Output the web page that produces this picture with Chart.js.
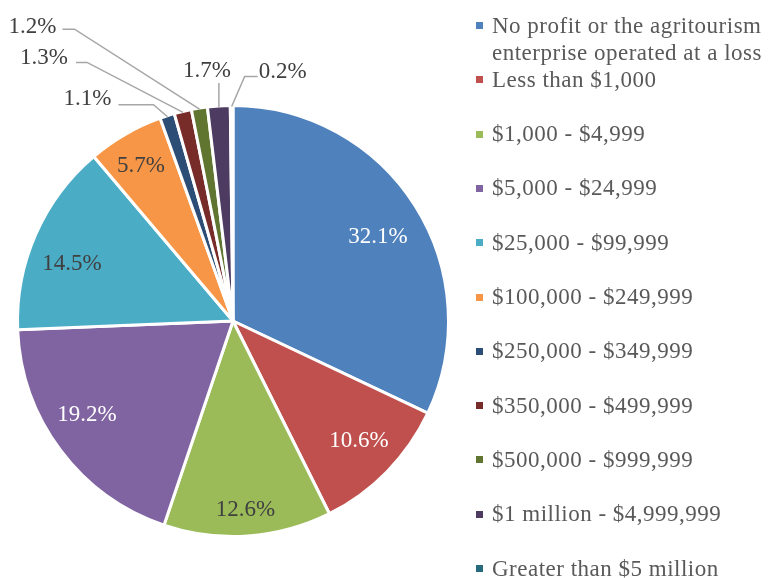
<!DOCTYPE html>
<html>
<head>
<meta charset="utf-8">
<script src="https://cdn.jsdelivr.net/npm/chart.js@4.4.1/dist/chart.umd.min.js"></script>
<style>
  body { margin: 0; background: #fff; }
  #wrap { position: relative; width: 768px; height: 578px; }
  #legend { position: absolute; left: 0; top: 0; font-family: "Liberation Serif", serif; font-size: 23px; color: #595959; letter-spacing: 0.5px; }
  .item { position: absolute; left: 492px; line-height: 27px; white-space: nowrap; }
  .box { position: absolute; width: 7px; height: 7px; }
</style>
</head>
<body>
<div id="wrap">
  <canvas id="pie"></canvas>
  <div id="legend"></div>
</div>
<script>
const categories = [
  ['No profit or the agritourism', 'enterprise operated at a loss'],
  'Less than $1,000',
  '$1,000 - $4,999',
  '$5,000 - $24,999',
  '$25,000 - $99,999',
  '$100,000 - $249,999',
  '$250,000 - $349,999',
  '$350,000 - $499,999',
  '$500,000 - $999,999',
  '$1 million - $4,999,999',
  'Greater than $5 million'
];
const shares = [32.1, 10.6, 12.6, 19.2, 14.5, 5.7, 1.1, 1.3, 1.2, 1.7, 0.2];
const colors = ['#4F81BD', '#C0504D', '#9BBB59', '#8064A2', '#4BACC6', '#F79646',
                '#2C4D75', '#772C2A', '#5F7530', '#4D3B62', '#276A7C'];

// label styling for slices big enough to hold their text
const labelColors = ['#fff', '#fff', '#404040', '#fff', '#404040', '#404040'];
const labelRadius = [0.779, 0.807, 0.877, 0.806, 0.793, 0.836];
const labelTurn = [2.1, -0.8, 0.2, 4, -4.2, -0.7]; // degrees off the slice middle

// leader lines for the thin slices: elbow offset from rim, arm length, text offset
const callouts = {
  6:  { dx: -14,  dy: -12, arm: -35, tx: -7,  ty: -5.5, align: 'right' },
  7:  { dx: -96,  dy: -50, arm: -11, tx: -8,  ty: -4,   align: 'right' },
  8:  { dx: -125, dy: -80, arm: -12, tx: -6,  ty: -2,   align: 'right' },
  9:  { dx: 0,    dy: -24, arm: 0,   tx: -12, ty: -12,  align: 'center' },
  10: { dx: 13,   dy: -30, arm: 13,  tx: 1,   ty: -5,   align: 'left' }
};

const sliceLabels = {
  id: 'sliceLabels',
  afterDatasetsDraw(chart) {
    const ctx = chart.ctx;
    const meta = chart.getDatasetMeta(0);
    ctx.save();
    ctx.font = '23px "Liberation Serif"';
    ctx.textBaseline = 'middle';
    meta.data.forEach((arc, i) => {
      const p = arc.getProps(['x', 'y', 'startAngle', 'endAngle', 'outerRadius'], true);
      const mid = (p.startAngle + p.endAngle) / 2;
      const text = shares[i].toFixed(1) + '%';
      const c = callouts[i];
      if (!c) {
        const r = p.outerRadius * labelRadius[i];
        const a = mid + labelTurn[i] * Math.PI / 180;
        ctx.fillStyle = labelColors[i];
        ctx.textAlign = 'center';
        ctx.fillText(text, p.x + Math.cos(a) * r, p.y + Math.sin(a) * r);
        return;
      }
      const ex = p.x + Math.cos(mid) * (p.outerRadius - 1);
      const ey = p.y + Math.sin(mid) * (p.outerRadius - 1);
      const bx = ex + c.dx, by = ey + c.dy;
      const ax = bx + c.arm;
      ctx.strokeStyle = '#A6A6A6';
      ctx.lineWidth = 1.5;
      ctx.beginPath();
      ctx.moveTo(ex, ey);
      ctx.lineTo(bx, by);
      ctx.lineTo(ax, by);
      ctx.stroke();
      ctx.fillStyle = '#404040';
      ctx.textAlign = c.align;
      ctx.fillText(text, ax + c.tx, by + c.ty);
    });
    ctx.restore();
  }
};

new Chart(document.getElementById('pie'), {
  type: 'pie',
  data: {
    labels: categories,
    datasets: [{
      data: shares,
      backgroundColor: colors,
      borderColor: '#fff',
      borderWidth: 3,
      hoverBorderWidth: 3,
      hoverOffset: 0
    }]
  },
  options: {
    responsive: true,
    maintainAspectRatio: false,
    animation: false,
    layout: { padding: { left: 16, top: 104, right: 318, bottom: 40 } },
    plugins: {
      legend: { display: false },
      tooltip: { enabled: false }
    }
  },
  plugins: [sliceLabels]
});

// legend on the right
const legend = document.getElementById('legend');
categories.forEach((label, i) => {
  const cy = 25 + i * 54.3;
  const item = document.createElement('div');
  item.className = 'item';
  item.style.top = (cy - 13.5) + 'px';
  item.innerHTML = Array.isArray(label) ? label.join('<br>') : label;
  legend.appendChild(item);
  const box = document.createElement('div');
  box.className = 'box';
  box.style.left = '476px';
  box.style.top = (cy - 3) + 'px';
  box.style.background = colors[i];
  legend.appendChild(box);
});
</script>
</body>
</html>
